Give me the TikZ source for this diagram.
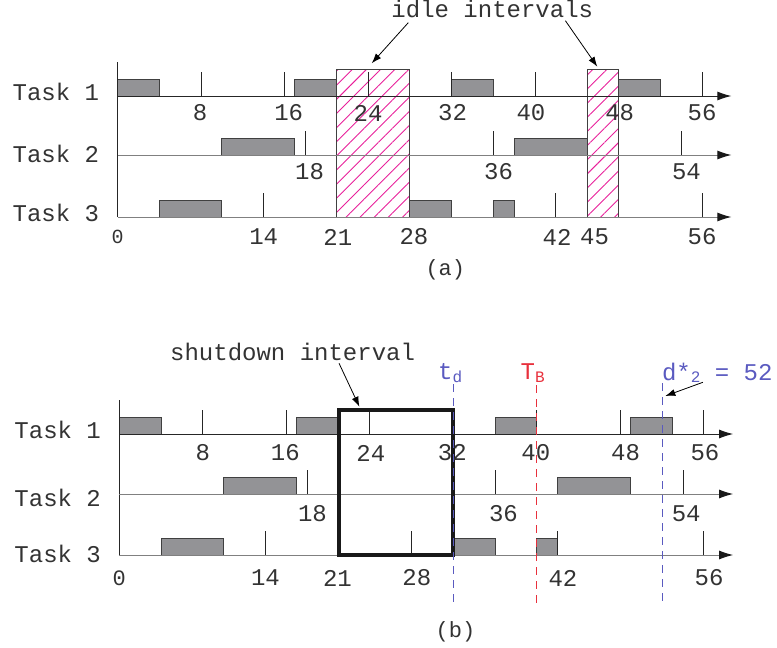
\documentclass[tikz,border=0pt]{standalone}
\usepackage{fontspec}
\setmainfont{Liberation Mono}
\usepackage{tikz}
\usetikzlibrary{
    arrows.meta,
    patterns.meta
}
\definecolor{busy}{HTML}{939396}
\definecolor{hatch}{HTML}{E8209A}
\definecolor{dblue}{HTML}{5A5AC0}
\definecolor{dred}{HTML}{E8303C}
\tikzset{
    every node/.style={font=\fontsize{12}{14}\selectfont, text=black!80},
    job/.style={fill=busy, draw=black!75, line width=0.5pt},
    timeaxis/.style={line width=0.5pt, -{Latex[length=7pt,width=4.5pt,color=black!90]}},
    tickline/.style={line width=0.5pt, draw=black!85},
    idlebox/.style={draw=black!75, line width=0.5pt,
        pattern={Lines[angle=45,distance=5pt,line width=0.45pt]}, pattern color=hatch},
    pointer/.style={-{Latex[length=5pt,width=3.5pt]}, line width=0.4pt},
    deadline/.style={dash pattern=on 4pt off 3pt, line width=0.5pt}
}
\newcommand{\lowtxt}[1]{\raisebox{-0.2ex}{\fontsize{8}{8}\selectfont #1}}

\begin{document}
\begin{tikzpicture}[x=5.22pt, y=-0.5pt]
    \useasboundingbox (-11.255,0) rectangle (63.17,648);

    % (a)
    \draw[idlebox] (21,69) rectangle (28,217);
    \draw[idlebox] (45,69) rectangle (48,217);
    \foreach \a/\b/\yy in {0/4/96, 17/21/96, 32/36/96, 48/52/96,
                           10/17/155, 38/45/155,
                           4/10/217, 28/32/217, 36/38/217}
        \draw[job] (\a,\yy) rectangle (\b,\yy-17);
    \foreach \t/\yy in {8/96, 16/96, 24/96, 32/96, 40/96, 56/96,
                        18/155, 36/155, 54/155,
                        14/217, 42/217, 56/217}
        \draw[tickline] (\t,\yy) -- ++(0,-24);
    \draw[tickline] (0,62) -- (0,217);
    \foreach \r/\yy/\c in {1/96/black!85, 2/155/black!50, 3/217/black!50}
        \draw[timeaxis, draw=\c] (0,\yy) -- (58.8,\yy);
    \foreach \r/\yy in {1/92, 2/154, 3/213}
        \draw (-5.9,\yy) node(a-task\r){Task \r};
    \foreach \t/\x/\yy in {8/7.9/113, 16/16.4/113, 24/24/113, 32/32.1/113,
                           40/39.6/113, 48/48.1/113, 56/56/113,
                           18/18.4/172, 36/36.5/172, 54/54.5/172,
                           14/14/237, 21/21.1/237, 28/28.4/237,
                           42/42.1/237, 45/45.7/237, 56/56/237}
        \draw (\x,\yy) node(a-\t-\yy){\t};
    \draw (0,237) node[font=\fontsize{10}{12}\selectfont](a-zero){0};
    \draw (35.9,9) node(idle){idle intervals};
    \coordinate (idle-from1) at (27.85,22.7);
    \coordinate (idle-to1) at (24.35,63.3);
    \coordinate (idle-from2) at (42.9,20.7);
    \coordinate (idle-to2) at (45.96,66.7);
    \draw[pointer] (idle-from1) -- (idle-to1);
    \draw[pointer] (idle-from2) -- (idle-to2);
    \draw (31.4,270) node[font=\fontsize{11}{13}\selectfont](cap-a){(a)};

    % (b)
    \begin{scope}[shift={(0.17,338)}]
        \foreach \a/\b/\yy in {0/4/96, 17/21/96, 36/40/96, 49/53/96,
                               10/17/156, 42/49/156,
                               4/10/217, 32/36/217, 40/42/217}
            \draw[job] (\a,\yy) rectangle (\b,\yy-17);
        \foreach \t/\yy in {8/96, 16/96, 24/96, 40/96, 48/96, 56/96,
                            18/156, 36/156, 54/156,
                            14/217, 28/217, 42/217, 56/217}
            \draw[tickline] (\t,\yy) -- ++(0,-24);
        \draw[tickline] (0,62) -- (0,217);
        \foreach \r/\yy/\c in {1/96/black!85, 2/156/black!50, 3/217/black!50}
            \draw[timeaxis, draw=\c] (0,\yy) -- (58.8,\yy);
        \draw[line width=2pt, draw=black!90] (21,72) rectangle (32,217);
        \foreach \r/\yy in {1/92, 2/160, 3/216}
            \draw (-5.9,\yy) node(b-task\r){Task \r};
        \foreach \t/\x/\yy in {8/8/115, 16/15.9/115, 24/24.1/115, 32/31.9/115,
                               40/39.9/115, 48/48.5/115, 56/56.1/115,
                               18/18.5/176, 36/36.8/176, 54/54.3/176,
                               14/14/240, 21/20.9/240, 28/28.5/240,
                               42/42.5/240, 56/56.5/240}
            \draw (\x,\yy) node(b-\t-\yy){\t};
        \draw (0,240) node[font=\fontsize{11}{13}\selectfont](b-zero){0};

        \draw[deadline, dblue] (32,46) -- (32,267);
        \draw[deadline, dred] (40,47) -- (40,269);
        \draw[deadline, dblue] (52,45) -- (52,267);
        \draw (31.7,35) node[text=dblue](td){t\lowtxt{d}};
        \draw (39.6,35) node[text=dred](tb){T\lowtxt{B}};
        \draw (62.6,35) node[anchor=east, inner xsep=0pt, text=dblue](dstar){d*\lowtxt{2} = 52};
        \coordinate (dstar-from) at (55.9,44.3);
        \coordinate (dstar-to) at (52.3,58);
        \draw[pointer] (dstar-from) -- (dstar-to);

        \draw (16.6,14) node(shut){shutdown interval};
        \coordinate (shut-from) at (21.05,25.3);
        \coordinate (shut-to) at (23,68.7);
        \draw[pointer] (shut-from) -- (shut-to);
        \draw (32.2,294) node[font=\fontsize{11}{13}\selectfont](cap-b){(b)};
    \end{scope}
\end{tikzpicture}
\end{document}
